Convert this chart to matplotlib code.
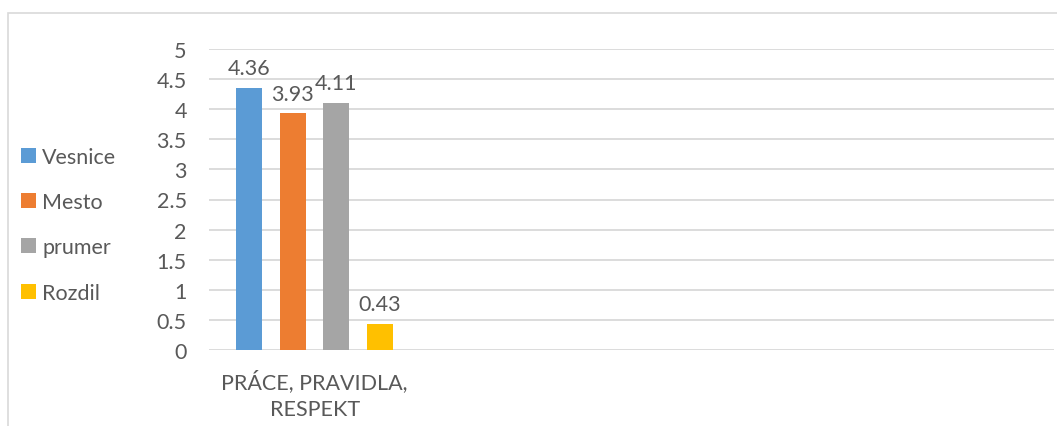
import matplotlib
matplotlib.use("Agg")
import matplotlib.pyplot as plt
from matplotlib.patches import Rectangle

plt.rcParams["font.family"] = ["Lato", "DejaVu Sans"]

# data
categories = ["PRÁCE, PRAVIDLA,\nRESPEKT"]
series = ["Vesnice", "Mesto", "prumer", "Rozdil"]
values = {
    "Vesnice": [4.36],
    "Mesto": [3.93],
    "prumer": [4.11],
    "Rozdil": [0.43],
}
colors = ["#5B9BD5", "#ED7D31", "#A5A5A5", "#FFC000"]
n_slots = 4  # category axis has room for four groups

TEXT = "#595959"
GRID = "#D9D9D9"
FS = 15.5

W, H = 1057, 427
fig = plt.figure(figsize=(W / 100, H / 100), dpi=100)

# chart frame
fig.patches.append(Rectangle((8 / W, -0.1), 1.2, 1 - 14 / H + 0.1,
                             transform=fig.transFigure, fill=False,
                             edgecolor=GRID, linewidth=1.2))

ax = fig.add_axes([209 / W, 1 - 351 / H, (1054 - 209) / W, (351 - 50) / H])

bar_w = 0.123
step = 0.206
offsets = [(i - 1.5) * step for i in range(len(series))]

for name, col, off in zip(series, colors, offsets):
    xs = [i + off for i in range(len(categories))]
    bars = ax.bar(xs, values[name], width=bar_w, color=col, zorder=3, label=name)
    for b, v in zip(bars, values[name]):
        ax.annotate(f"{v:g}", (b.get_x() + b.get_width() / 2, v),
                    xytext=(0, 7), textcoords="offset points",
                    ha="center", va="bottom", fontsize=FS, color=TEXT)

ax.set_xlim(-0.5, n_slots - 0.5)
ax.set_ylim(0, 5)
ax.set_yticks([i * 0.5 for i in range(11)])
ax.set_yticklabels([f"{i * 0.5:g}" for i in range(11)])
ax.set_xticks(range(len(categories)))
ax.set_xticklabels(categories, linespacing=1.4)
ax.tick_params(axis="y", length=0, pad=16, labelsize=FS, labelcolor=TEXT)
ax.tick_params(axis="x", length=0, pad=14, labelsize=FS, labelcolor=TEXT)

ax.grid(axis="y", color=GRID, linewidth=1.3, zorder=0)
ax.set_axisbelow(True)
for s in ax.spines.values():
    s.set_visible(False)

leg = fig.legend(loc="upper left", bbox_to_anchor=(12 / W, 1 - 139 / H),
                 frameon=False, fontsize=FS, handlelength=0.7, handleheight=0.7,
                 handletextpad=0.3, labelspacing=1.18, labelcolor=TEXT,
                 borderaxespad=0)

fig.savefig("out.png", dpi=100)
